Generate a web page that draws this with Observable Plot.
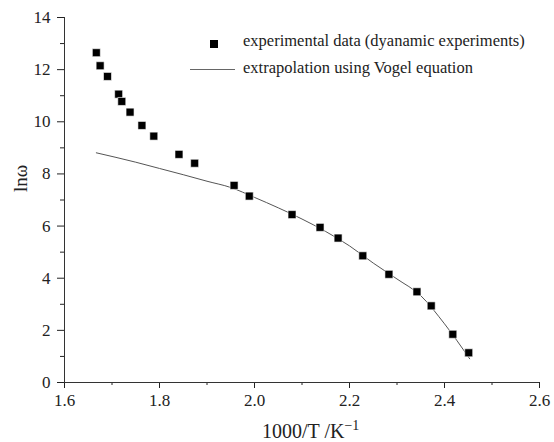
<!DOCTYPE html>
<html>
<head>
<meta charset="utf-8">
<script src="https://cdn.jsdelivr.net/npm/d3@7"></script>
<script src="https://cdn.jsdelivr.net/npm/@observablehq/plot@0.6"></script>
<style>
  html, body { margin: 0; padding: 0; background: white; }
  #wrap { position: relative; width: 554px; height: 442px; font-family: "Liberation Serif", serif; color: #222; }
  .abs { position: absolute; white-space: nowrap; }
  .leg { font-size: 16.5px; line-height: 16.5px; }
</style>
</head>
<body>
<div id="wrap">
  <div id="chart"></div>
  <div class="abs" style="left:209.5px; top:40px; width:8px; height:8px; background:#000;"></div>
  <div class="abs leg" style="left:243px; top:33.2px;">experimental data (dyanamic experiments)</div>
  <div class="abs" style="left:190px; top:69px; width:45px; height:0; border-top:1px solid #666;"></div>
  <div class="abs leg" style="left:243px; top:59.5px;">extrapolation using Vogel equation</div>
  <div class="abs" style="left:262px; top:421px; font-size:20px; line-height:20px;">1000/T /K<span style="font-size:14px; position:relative; top:-8px;">−1</span></div>
</div>
<script>
// Experimental data (dynamic experiments)
const expX = [1.667, 1.675, 1.6905, 1.714, 1.7206, 1.738, 1.763, 1.788, 1.841, 1.874,
              1.957, 1.989, 2.079, 2.138, 2.176, 2.228, 2.283, 2.342, 2.372, 2.4175, 2.451];
const expY = [12.65, 12.15, 11.74, 11.06, 10.78, 10.37, 9.86, 9.45, 8.75, 8.41,
              7.56, 7.15, 6.44, 5.95, 5.54, 4.86, 4.15, 3.48, 2.94, 1.85, 1.14];

// Extrapolation using Vogel equation
const vogX = [1.667, 1.75, 1.80, 1.85, 1.90, 1.95, 2.00, 2.05, 2.10, 2.15, 2.20, 2.25, 2.30, 2.35, 2.40, 2.453];
const vogY = [8.81, 8.45, 8.21, 7.97, 7.72, 7.48, 7.10, 6.70, 6.27, 5.79, 5.24, 4.58, 3.97, 3.33, 2.25, 0.91];

const xTicks = [1.6, 1.8, 2.0, 2.2, 2.4, 2.6];
const xMinor = [1.7, 1.9, 2.1, 2.3, 2.5];
const yTicks = [0, 2, 4, 6, 8, 10, 12, 14];
const yMinor = [1, 3, 5, 7, 9, 11, 13];

const points = expX.map((x, i) => ({x, y: expY[i]}));
const curve = vogX.map((x, i) => ({x, y: vogY[i]}));

const chart = Plot.plot({
  width: 554,
  height: 442,
  marginLeft: 64,
  marginRight: 15,
  marginTop: 17,
  marginBottom: 60,
  x: {domain: [1.6, 2.6]},
  y: {domain: [0, 14]},
  style: {fontFamily: "Liberation Serif", fontSize: "17px", color: "#222", background: "white", overflow: "visible"},
  marks: [
    Plot.axisX({ticks: xTicks, tickSize: 6, tickPadding: 5, tickFormat: d3.format(".1f"), label: null, fontSize: 17}),
    Plot.axisX({ticks: xMinor, tickSize: 3, tickFormat: () => "", label: null}),
    Plot.axisY({ticks: yTicks, tickSize: 7, tickPadding: 7, tickFormat: d3.format("d"), label: null, fontSize: 17}),
    Plot.axisY({ticks: yMinor, tickSize: 4, tickFormat: () => "", label: null}),
    Plot.ruleX([1.6], {stroke: "#333"}),
    Plot.ruleY([0], {stroke: "#333"}),
    Plot.line(curve, {x: "x", y: "y", stroke: "#555", strokeWidth: 1, curve: "monotone-x"}),
    Plot.dot(points, {x: "x", y: "y", symbol: "square", r: 4.5, fill: "#000", stroke: "white", strokeWidth: 0.6}),
    Plot.text(["lnω"], {frameAnchor: "left", rotate: -90, dx: -44, dy: -8, fontSize: 19, fill: "#222"})
  ]
});
document.getElementById("chart").appendChild(chart);
</script>
</body>
</html>
